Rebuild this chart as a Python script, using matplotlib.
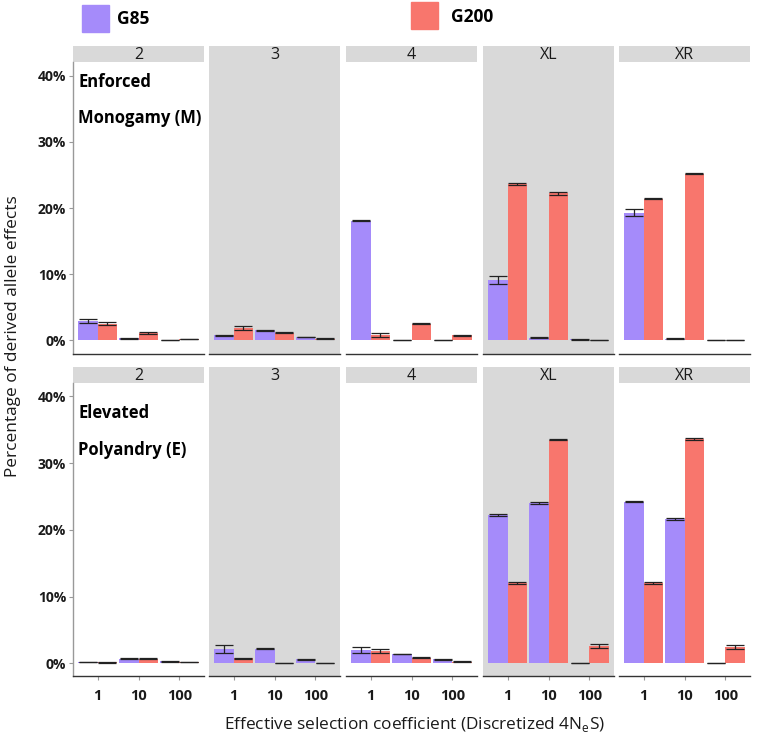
import matplotlib
matplotlib.use("Agg")
import matplotlib.pyplot as plt
import numpy as np
from matplotlib.patches import Rectangle

plt.rcParams['font.family'] = ['Open Sans', 'DejaVu Sans']

panels = ["2", "3", "4", "XL", "XR"]
categories = ["1", "10", "100"]
series = ["G85", "G200"]

# Enforced Monogamy (M) -- values in % per panel, per category
M_G85 = [[2.9, 0.25, 0.0], [0.75, 1.5, 0.45], [18.1, 0.0, 0.0], [9.1, 0.35, 0.1], [19.3, 0.2, 0.0]]
M_G85_err = [[0.3, 0.05, 0.02], [0.1, 0.1, 0.05], [0.1, 0.02, 0.02], [0.6, 0.1, 0.02], [0.5, 0.05, 0.02]]
M_G200 = [[2.5, 1.1, 0.15], [1.9, 1.15, 0.2], [0.75, 2.5, 0.75], [23.7, 22.2, 0.0], [21.4, 25.2, 0.0]]
M_G200_err = [[0.25, 0.1, 0.03], [0.3, 0.05, 0.05], [0.3, 0.1, 0.1], [0.15, 0.2, 0.02], [0.1, 0.1, 0.02]]

# Elevated Polyandry (E)
E_G85 = [[0.2, 0.7, 0.3], [2.2, 2.2, 0.6], [2.0, 1.4, 0.6], [22.2, 24.0, 0.1], [24.2, 21.6, 0.0]]
E_G85_err = [[0.05, 0.05, 0.05], [0.6, 0.1, 0.05], [0.5, 0.05, 0.05], [0.1, 0.1, 0.02], [0.1, 0.1, 0.02]]
E_G200 = [[0.15, 0.7, 0.15], [0.75, 0.0, 0.0], [1.9, 0.85, 0.25], [12.1, 33.5, 2.6], [12.1, 33.6, 2.5]]
E_G200_err = [[0.05, 0.05, 0.02], [0.1, 0.02, 0.02], [0.3, 0.05, 0.05], [0.15, 0.1, 0.35], [0.15, 0.1, 0.3]]

row_titles = [("Enforced", "Monogamy (M)"), ("Elevated", "Polyandry (E)")]
yticks = [0, 10, 20, 30, 40]
ytick_labels = ["0%", "10%", "20%", "30%", "40%"]

C85 = "#A58BFA"
C200 = "#F8766D"
GRAY = "#D9D9D9"

W, H = 758, 740
fig = plt.figure(figsize=(W / 100, H / 100), dpi=100)

lefts = [73, 209, 346, 483, 619]
pw = 131
rows = [
    dict(strip=(46, 62), ax=(62, 354), data=(M_G85, M_G85_err, M_G200, M_G200_err), ylim=(-2.1, 42.1), text_y=(0.932, 0.808)),
    dict(strip=(367, 383), ax=(383, 676), data=(E_G85, E_G85_err, E_G200, E_G200_err), ylim=(-1.9, 42.0), text_y=(0.898, 0.771)),
]

x = np.arange(1, len(categories) + 1)
bw = 0.475

for r, row in enumerate(rows):
    g85, g85e, g200, g200e = row["data"]
    st, sb = row["strip"]
    at, ab = row["ax"]
    for p, name in enumerate(panels):
        l = lefts[p]
        gray_panel = p in (1, 3)
        # strip
        sax = fig.add_axes([l / W, 1 - sb / H, pw / W, (sb - st) / H])
        sax.set_xlim(0, 1); sax.set_ylim(0, 1)
        sax.axis("off")
        sax.add_patch(Rectangle((0, 0), 1, 1, color=GRAY, lw=0))
        sax.text(0.5, 0.45, name, ha="center", va="center", fontsize=11.5, color="#1a1a1a")

        ax = fig.add_axes([l / W, 1 - ab / H, pw / W, (ab - at) / H])
        ax.set_facecolor(GRAY if gray_panel else "white")
        ax.bar(x - bw / 2, g85[p], width=bw, color=C85, zorder=2)
        ax.bar(x + bw / 2, g200[p], width=bw, color=C200, zorder=2)
        ax.errorbar(x - bw / 2, g85[p], yerr=g85e[p], fmt="none", ecolor="#222222",
                    elinewidth=0.9, capsize=6.8, capthick=0.9, zorder=3)
        ax.errorbar(x + bw / 2, g200[p], yerr=g200e[p], fmt="none", ecolor="#222222",
                    elinewidth=0.9, capsize=6.8, capthick=0.9, zorder=3)
        ax.set_xlim(0.4, 3.6)
        ax.set_ylim(*row["ylim"])
        for s in ["top", "right"]:
            ax.spines[s].set_visible(False)
        ax.spines["bottom"].set_color("#333333")
        ax.spines["bottom"].set_linewidth(1.0)
        if p == 0:
            ax.spines["left"].set_color("#999999")
            ax.spines["left"].set_linewidth(1.0)
            ax.set_yticks(yticks)
            ax.set_yticklabels(ytick_labels, fontsize=10, fontweight="bold", color="#1a1a1a")
            ax.tick_params(axis="y", length=3, color="#999999", pad=2)
            t1, t2 = row_titles[r]
            ax.text(0.04, row["text_y"][0], t1, transform=ax.transAxes, fontsize=12,
                    fontweight="bold", ha="left", va="center", color="black")
            ax.text(0.04, row["text_y"][1], t2, transform=ax.transAxes, fontsize=12,
                    fontweight="bold", ha="left", va="center", color="black")
        else:
            ax.spines["left"].set_visible(False)
            ax.set_yticks([])
        if r == 1:
            ax.set_xticks(x)
            ax.set_xticklabels(categories, fontsize=10.5, fontweight="bold", color="#1a1a1a")
            ax.tick_params(axis="x", length=3, color="#999999", pad=6)
        else:
            ax.set_xticks([])

# legend
fig.patches.append(Rectangle((82 / W, 1 - 32 / H), 27 / W, 27 / H, transform=fig.transFigure, color=C85))
fig.text(117 / W, 1 - 19 / H, series[0], fontsize=12.5, fontweight="bold", ha="left", va="center")
fig.patches.append(Rectangle((411 / W, 1 - 29 / H), 27 / W, 27 / H, transform=fig.transFigure, color=C200))
fig.text(451 / W, 1 - 17 / H, series[1], fontsize=12.5, fontweight="bold", ha="left", va="center")

fig.text(13 / W, 1 - 336 / H, "Percentage of derived allele effects", rotation=90,
         fontsize=12.4, ha="center", va="center", color="#1a1a1a")
fig.text(415 / W, 1 - 724 / H, "Effective selection coefficient (Discretized 4N$_\\mathregular{e}$S)",
         fontsize=12.4, ha="center", va="center", color="#1a1a1a")

fig.savefig("out.png", dpi=100)
